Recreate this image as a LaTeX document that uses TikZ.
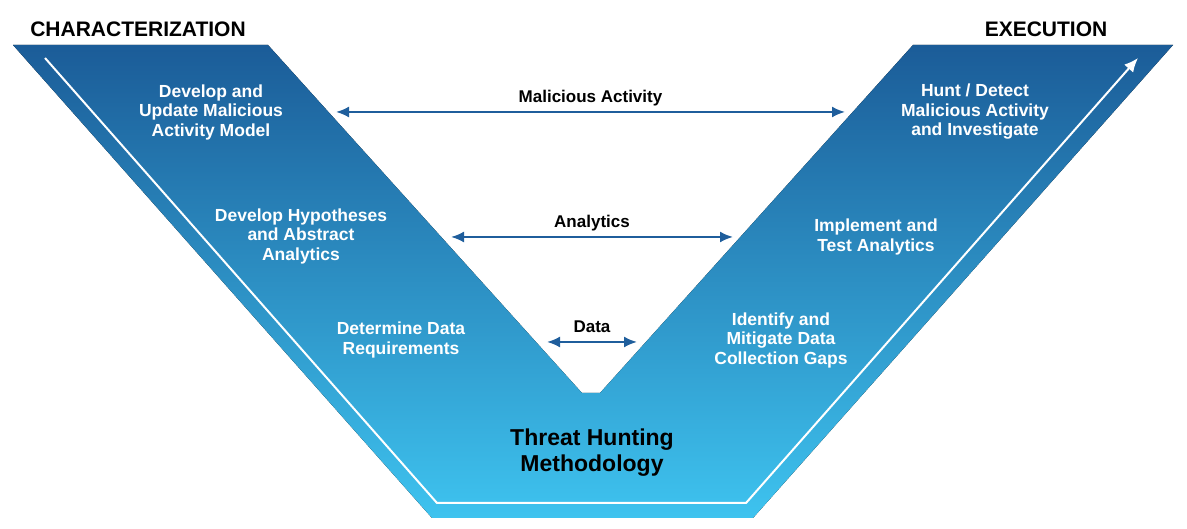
\documentclass[tikz,border=0pt]{standalone}
\usepackage{fontspec}
\setmainfont{Liberation Sans}
\usetikzlibrary{arrows.meta}

\definecolor{vtop}{HTML}{1B5C98}
\definecolor{vmid}{HTML}{2886C1}
\definecolor{vbot}{HTML}{3EC3EF}
\definecolor{flowblue}{HTML}{1F5E9C}

\begin{document}
\begin{tikzpicture}[
    x = 1pt,
    y = 1pt,
    semithick,
    ]

    \tikzstyle{phase}=[
    text = black,
    font = \fontsize{21}{23}\selectfont\bfseries,
    ]
    \tikzstyle{stage}=[
    align = center,
    text = white,
    font = \fontsize{17.5}{19.5}\selectfont\bfseries,
    ]
    \tikzstyle{flow}=[
    {Latex[length=13pt,width=11pt]}-{Latex[length=13pt,width=11pt]},
    draw = flowblue,
    line width = 2pt,
    ]
    \tikzstyle{tag}=[
    anchor = base,
    yshift = 9.5pt,
    text = black,
    font = \fontsize{17}{19}\selectfont\bfseries,
    ]

    \useasboundingbox (0,0) rectangle (1187,529);

    % the V
    \fill[top color=vtop, middle color=vmid, bottom color=vbot]
      (13,484) -- (268,484) -- (582,136) -- (600,136) -- (913,484)
      -- (1173,484) -- (753,11) -- (432,11) -- cycle;

    % white path along the V
    \coordinate (w1) at (45,471);
    \coordinate (w2) at (437,26);
    \coordinate (w3) at (746,26);
    \coordinate (w4) at (1138,471);
    \draw[white, line width=2pt, -{Latex[length=14pt,width=12pt]}]
      (w1) -- (w2) -- (w3) -- (w4);

    \node[phase] (char) at (138,500) {CHARACTERIZATION};
    \node[phase] (exec) at (1046,500) {EXECUTION};

    \node[stage] (model) at (211,417) {Develop and\\Update Malicious\\Activity Model};
    \node[stage] (hypo) at (301,293) {Develop Hypotheses\\and Abstract\\Analytics};
    \node[stage] (req) at (401,189) {Determine Data\\Requirements};
    \node[stage] (hunt) at (975,417) {Hunt / Detect\\Malicious Activity\\and Investigate};
    \node[stage] (impl) at (876,292) {Implement and\\Test Analytics};
    \node[stage] (gaps) at (781,189) {Identify and\\Mitigate Data\\Collection Gaps};

    \node[align=center, text=black, font=\fontsize{23}{26}\selectfont\bfseries]
      (thm) at (592,76) {Threat Hunting\\Methodology};

    \coordinate (mal-l) at (336,417);
    \coordinate (mal-r) at (845,417);
    \coordinate (ana-l) at (451,292);
    \coordinate (ana-r) at (733,292);
    \coordinate (dat-l) at (547,187);
    \coordinate (dat-r) at (637,187);

    \draw[flow] (mal-l) -- node[tag] {Malicious Activity} (mal-r);
    \draw[flow] (ana-l) -- node[tag] {Analytics} (ana-r);
    \draw[flow] (dat-l) -- node[tag] {Data} (dat-r);
  \end{tikzpicture}
\end{document}
